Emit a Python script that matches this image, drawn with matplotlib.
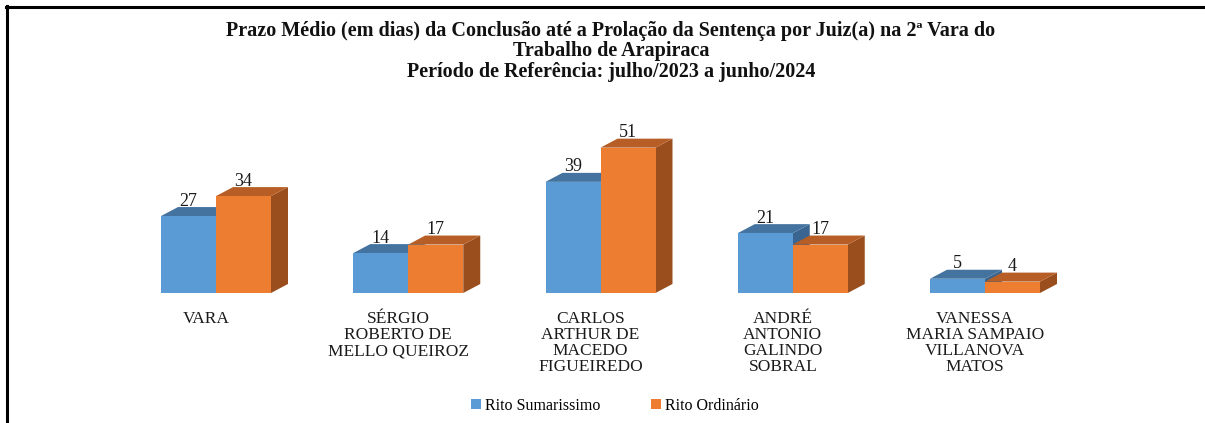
import matplotlib
matplotlib.use('Agg')
import matplotlib.pyplot as plt
from matplotlib.patches import Polygon, Patch
from matplotlib.lines import Line2D

categories = ["VARA",
              "SÉRGIO\nROBERTO DE\nMELLO QUEIROZ",
              "CARLOS\nARTHUR DE\nMACEDO\nFIGUEIREDO",
              "ANDRÉ\nANTONIO\nGALINDO\nSOBRAL",
              "VANESSA\nMARIA SAMPAIO\nVILLANOVA\nMATOS"]
sumarissimo = [27, 14, 39, 21, 5]
ordinario = [34, 17, 51, 17, 4]
series_names = ["Rito Sumarissimo", "Rito Ordinário"]
title_lines = ["Prazo Médio (em dias) da Conclusão até a Prolação da Sentença por Juiz(a) na 2ª Vara do",
               "Trabalho de Arapiraca",
               "Período de Referência: julho/2023 a junho/2024"]

FONT = 'Liberation Serif'
W, H = 1205, 423
fig = plt.figure(figsize=(W / 100, H / 100), dpi=100)

# layout in pixels
ax_left_px, ax_right_px = 120, 1100
zero_px = 293
top_px = 130
group_px = 192.25
center0_px = 216
px_per_unit = 2.85
bar_px = 55
depth_dx_px, depth_dy_px = 17, 9

ax = fig.add_axes([ax_left_px / W, (H - zero_px) / H,
                   (ax_right_px - ax_left_px) / W, (zero_px - top_px) / H])
ax.set_xlim((ax_left_px - center0_px) / group_px, (ax_right_px - center0_px) / group_px)
ax.set_ylim(0, (zero_px - top_px) / px_per_unit)
ax.axis('off')

w = bar_px / group_px
dx = depth_dx_px / group_px
dy = depth_dy_px / px_per_unit

styles = [
    dict(front='#5B9BD5', top='#44739F', side='#3A6590'),
    dict(front='#ED7D31', top='#B65E25', side='#9A4E1E'),
]

for i, cat in enumerate(categories):
    for s, vals in enumerate([sumarissimo, ordinario]):
        v = vals[i]
        st = styles[s]
        l = i - w + s * w
        z = 10 + i * 10 + s * 3
        side = Polygon([(l + w, 0), (l + w + dx, dy), (l + w + dx, v + dy), (l + w, v)],
                       closed=True, facecolor=st['side'], edgecolor='none', zorder=z, clip_on=False)
        top = Polygon([(l, v), (l + w, v), (l + w + dx, v + dy), (l + dx, v + dy)],
                      closed=True, facecolor=st['top'], edgecolor='none', zorder=z + 1, clip_on=False)
        ax.add_patch(side)
        ax.add_patch(top)
        ax.bar(l, v, width=w, align='edge', color=st['front'], edgecolor='none',
               zorder=z + 2, clip_on=False)
        ax.annotate(str(v), (l + w / 2, v), xytext=(0, depth_dy_px * 0.72 + 1.0),
                    textcoords='offset points', ha='center', va='baseline',
                    fontsize=13, family=FONT, color='#1a1a1a', zorder=100)
    ax.annotate(cat, (i - 10 / group_px, 0), xytext=(0, -13), textcoords='offset points',
                ha='center', va='top', multialignment='center', fontsize=12.5,
                family=FONT, linespacing=1.0, color='#1a1a1a', annotation_clip=False)

# title
title_y = [31, 51, 72]
for txt, yy in zip(title_lines, title_y):
    fig.text(611 / W, 1 - yy / H, txt, ha='center', va='center', fontsize=14.5,
             fontweight='bold', family=FONT, color='#111111')

# legend
handles = [Patch(facecolor=styles[0]['front']), Patch(facecolor=styles[1]['front'])]
fig.legend(handles, series_names, loc='center', bbox_to_anchor=(615 / W, 1 - 406 / H),
           ncol=2, frameon=False, handlelength=0.6, handleheight=0.6,
           columnspacing=3.2, handletextpad=0.25, prop={'family': FONT, 'size': 11.5})

# border lines (top and left)
fig.add_artist(Line2D([6 / W, 1], [1 - 7.5 / H, 1 - 7.5 / H], transform=fig.transFigure,
                      color='black', linewidth=2.2))
fig.add_artist(Line2D([7 / W, 7 / W], [1 - 6.5 / H, 0], transform=fig.transFigure,
                      color='black', linewidth=2.2))

fig.savefig('out.png', dpi=100)
